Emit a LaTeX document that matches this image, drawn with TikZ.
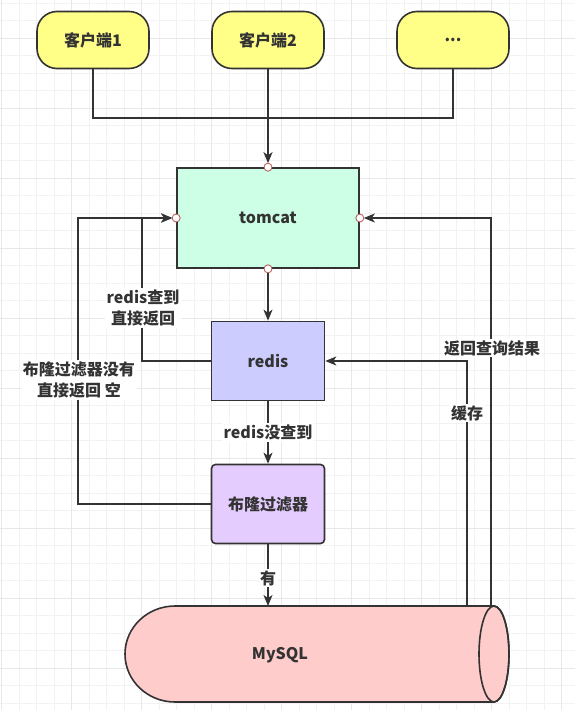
\documentclass[tikz,border=0pt]{standalone}
\usepackage{fontspec}
\setmainfont{Noto Sans CJK SC}
\usepackage{tikz}
\usetikzlibrary{arrows.meta}
\definecolor{dgray}{HTML}{333333}
\definecolor{cyellow}{HTML}{FFFF88}
\definecolor{cmint}{HTML}{CCFFE6}
\definecolor{cblue}{HTML}{CCCCFF}
\definecolor{cviolet}{HTML}{E5CCFF}
\definecolor{cpink}{HTML}{FFCCCC}
\definecolor{cport}{HTML}{B85450}
\definecolor{cgrid}{HTML}{F2F2F2}
\definecolor{cgridb}{HTML}{E8E8E8}
\tikzset{
 txt/.style={text=dgray, font=\bfseries\fontsize{16}{21}\selectfont, align=center},
 box/.style={txt, draw=dgray, line width=1.6pt, inner sep=0pt},
 client/.style={box, fill=cyellow, rounded corners=20pt, minimum width=112pt, minimum height=57pt},
 port/.style={circle, draw=cport, fill=white, line width=0.8pt, inner sep=0pt, minimum size=8pt},
 conn/.style={draw=dgray, line width=1.6pt},
 arr/.style={conn, ->},
 lbl/.style={txt, fill=white, inner sep=1.5pt},
}

\begin{document}
\begin{tikzpicture}[x=1pt, y=-1pt, >={Stealth[length=11pt,width=9pt,inset=3pt]}]
\useasboundingbox (0,0) rectangle (575,710);
\fill [white] (0,0) rectangle (575,710);
\foreach \i in {0,...,32} \draw [cgrid, line width=1pt] ({1.7+17.5*\i},0) -- ({1.7+17.5*\i},710);
\foreach \j in {0,...,40} \draw [cgrid, line width=1pt] (0,{3.3+17.5*\j}) -- (575,{3.3+17.5*\j});
\foreach \i in {0,...,8} \draw [cgridb, line width=1pt] ({1.7+70*\i},0) -- ({1.7+70*\i},710);
\foreach \j in {0,...,9} \draw [cgridb, line width=1pt] (0,{38.3+70*\j}) -- (575,{38.3+70*\j});

\node [client] (c1) at (93,40) {客户端1};
\node [client] (c2) at (268,40) {客户端2};
\node [client] (c3) at (453,40) {...};
\node [box, fill=cmint, minimum width=182pt, minimum height=100pt] (tomcat) at (268,218) {tomcat};
\node [box, fill=cblue, minimum width=113pt, minimum height=79pt] (redis) at (268,361) {redis};
\node [box, fill=cviolet, rounded corners=4pt, minimum width=113pt, minimum height=79pt] (bloom) at (268,504) {布隆过滤器};

\filldraw [conn, fill=cpink] (494,606) -- (175,606) arc [start angle=270, end angle=90, x radius=50, y radius=48] -- (494,702) arc [start angle=90, end angle=-90, x radius=15, y radius=48] -- cycle;
\draw [conn] (494,654) ellipse [x radius=15, y radius=48];
\node [txt] (mysql) at (280,655) {MySQL};
\coordinate (bus) at (268,118);
\coordinate (db1) at (268,606);
\coordinate (db2) at (467,606);
\coordinate (db3) at (491,606);

\draw [conn] (c1.south) |- (bus) -| (c3.south);
\draw [arr, shorten >=4pt] (c2.south) -- (tomcat.north);
\draw [arr, shorten <=4pt] (tomcat.south) -- (redis.north);
\draw [arr, shorten >=4pt] (redis.west) -- ++(-69,0) |- (tomcat.west);
\draw [arr, shorten >=4pt] (bloom.west) -- ++(-133,0) |- (tomcat.west);
\draw [arr, shorten >=4pt] (db3) |- (tomcat.east);
\draw [arr] (db2) |- (redis.east);
\draw [arr] (redis.south) -- (bloom.north) node [lbl, pos=0.5] (l1) {redis没查到};
\draw [arr] (bloom.south) -- (db1) node [lbl, pos=0.55] (l2) {有};
\node [lbl] (l3) at (143,308) {redis查到\\直接返回};
\node [lbl] (l4) at (79,380) {布隆过滤器没有\\直接返回 空};
\node [lbl] (l5) at (492,348) {返回查询结果};
\node [lbl] (l6) at (467,413) {缓存};

\foreach \a in {north,south,east,west} \node [port] (p\a) at (tomcat.\a) {};
\end{tikzpicture}
\end{document}
